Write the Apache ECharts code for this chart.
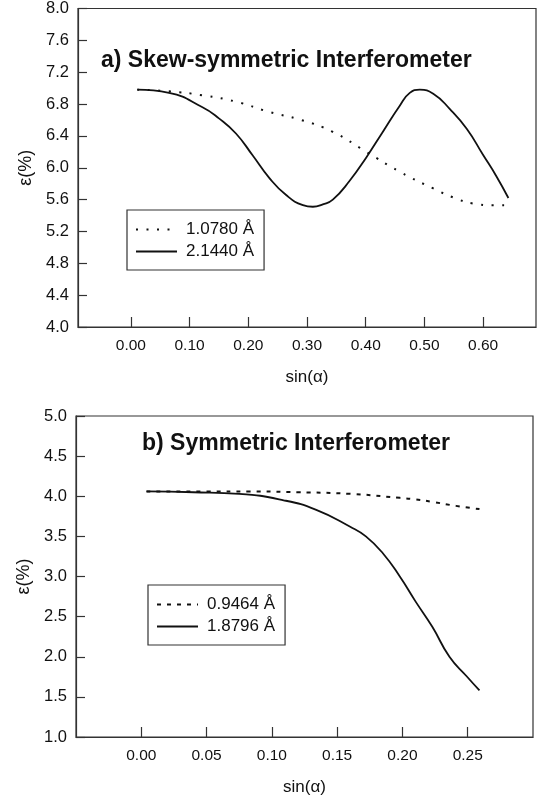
<!DOCTYPE html>
<html>
<head>
<meta charset="utf-8">
<script src="https://cdn.jsdelivr.net/npm/echarts@6/dist/echarts.min.js"></script>
<style>
html,body{margin:0;padding:0;background:#fff;}
#c{width:537px;height:799px;}
</style>
</head>
<body>
<div id="c"></div>
<script>
// ---- Panel a) Skew-symmetric Interferometer ----
var aTitle = 'a) Skew-symmetric Interferometer';
var aNames = ['1.0780 Å', '2.1440 Å'];
var aXTicks = [0, 0.1, 0.2, 0.3, 0.4, 0.5, 0.6];
var aDotX = [0.011, 0.065, 0.122, 0.179, 0.236, 0.29, 0.344, 0.401, 0.458, 0.515, 0.555, 0.583, 0.615, 0.645];
var aDotY = [6.98, 6.96, 6.91, 6.83, 6.70, 6.60, 6.45, 6.20, 5.95, 5.74, 5.61, 5.55, 5.53, 5.53];
var aSolX = [0.011, 0.065, 0.122, 0.150, 0.179, 0.207, 0.236, 0.264, 0.293, 0.310, 0.327, 0.344, 0.372, 0.401, 0.429, 0.458, 0.475, 0.492, 0.515, 0.543, 0.572, 0.600, 0.622, 0.643];
var aSolY = [6.98, 6.94, 6.76, 6.62, 6.43, 6.16, 5.87, 5.66, 5.53, 5.51, 5.54, 5.60, 5.83, 6.13, 6.45, 6.78, 6.94, 6.98, 6.93, 6.74, 6.49, 6.16, 5.90, 5.62];

// ---- Panel b) Symmetric Interferometer ----
var bTitle = 'b) Symmetric Interferometer';
var bNames = ['0.9464 Å', '1.8796 Å'];
var bXTicks = [0, 0.05, 0.10, 0.15, 0.20, 0.25];
var bDotX = [0.004, 0.05, 0.083, 0.12, 0.16, 0.198, 0.21, 0.223, 0.241, 0.259];
var bDotY = [4.06, 4.06, 4.06, 4.05, 4.03, 3.98, 3.96, 3.93, 3.88, 3.84];
var bSolX = [0.004, 0.04, 0.075, 0.109, 0.134, 0.160, 0.172, 0.185, 0.198, 0.210, 0.223, 0.236, 0.249, 0.259];
var bSolY = [4.06, 4.05, 4.03, 3.95, 3.83, 3.62, 3.50, 3.29, 3.00, 2.69, 2.37, 2.00, 1.76, 1.58];

function pairs(xs, ys) { return xs.map(function (x, i) { return [x, ys[i]]; }); }

var FONT = 'Liberation Sans, Arial, sans-serif';
var INK = '#111';

function xAxis(grid, min, max, ticks) {
  return {
    type: 'value', gridIndex: grid, min: min, max: max,
    name: 'sin(α)', nameLocation: 'middle', nameGap: 42,
    nameTextStyle: { fontFamily: FONT, fontSize: 17, color: INK },
    axisLine: { show: true, onZero: false, lineStyle: { color: '#333', width: 1.2 } },
    axisTick: { show: true, inside: true, length: 10, customValues: ticks, lineStyle: { color: '#333', width: 1.2 } },
    axisLabel: { show: true, customValues: ticks, margin: 11, fontFamily: FONT, fontSize: 15.5, color: INK,
      formatter: function (v) { return v.toFixed(2); } },
    splitLine: { show: false }
  };
}
function yAxis(grid, min, max, interval) {
  return {
    type: 'value', gridIndex: grid, min: min, max: max, interval: interval,
    name: 'ε(%)', nameLocation: 'middle', nameGap: 42,
    nameTextStyle: { fontFamily: FONT, fontSize: 18, color: INK },
    axisLine: { show: true, onZero: false, lineStyle: { color: '#333', width: 1.2 } },
    axisTick: { show: true, inside: true, length: 9, lineStyle: { color: '#333', width: 1.2 } },
    axisLabel: { margin: 9, fontFamily: FONT, fontSize: 16.5, color: INK,
      formatter: function (v) { return v.toFixed(1); } },
    splitLine: { show: false }
  };
}
function line(name, xi, yi, data, dotted) {
  return {
    type: 'line', name: name, xAxisIndex: xi, yAxisIndex: yi, data: data,
    smooth: true, symbol: 'none', showSymbol: false, silent: true, animation: false,
    lineStyle: dotted ? { color: INK, width: 2, type: dotted } : { color: INK, width: 1.8, type: 'solid' },
    itemStyle: { color: INK }
  };
}
function legend(names, left, top) {
  return {
    orient: 'vertical', left: left, top: top, data: names,
    itemWidth: 41, itemHeight: 14, itemGap: 5,
    padding: [11, 10, 10, 8],
    borderColor: '#333', borderWidth: 1.2, backgroundColor: '#fff',
    itemStyle: { opacity: 0 },
    textStyle: { fontFamily: FONT, fontSize: 17, color: INK, padding: [0, 0, 0, 4] },
    selectedMode: false
  };
}

var chart = echarts.init(document.getElementById('c'), null, { renderer: 'canvas' });
chart.setOption({
  animation: false,
  backgroundColor: '#fff',
  title: [
    { text: aTitle, left: 101, top: 49, padding: 0,
      textStyle: { fontFamily: FONT, fontSize: 23, fontWeight: 'bold', color: INK } },
    { text: bTitle, left: 142, top: 432, padding: 0,
      textStyle: { fontFamily: FONT, fontSize: 23, fontWeight: 'bold', color: INK } }
  ],
  legend: [legend(aNames, 127, 210), legend(bNames, 148, 585)],
  grid: [
    { left: 78, right: 1, top: 7, height: 320, show: true, borderColor: '#333', borderWidth: 1.2, backgroundColor: 'transparent' },
    { left: 76, right: 4, top: 416, height: 321, show: true, borderColor: '#333', borderWidth: 1.2, backgroundColor: 'transparent' }
  ],
  xAxis: [xAxis(0, -0.09, 0.69, aXTicks), xAxis(1, -0.05, 0.30, bXTicks)],
  yAxis: [yAxis(0, 4.0, 8.0, 0.4), yAxis(1, 1.0, 5.0, 0.5)],
  series: [
    line(aNames[0], 0, 0, pairs(aDotX, aDotY), [2, 8.5]),
    line(aNames[1], 0, 0, pairs(aSolX, aSolY), null),
    line(bNames[0], 1, 1, pairs(bDotX, bDotY), [4, 6]),
    line(bNames[1], 1, 1, pairs(bSolX, bSolY), null)
  ]
});
</script>
</body>
</html>
